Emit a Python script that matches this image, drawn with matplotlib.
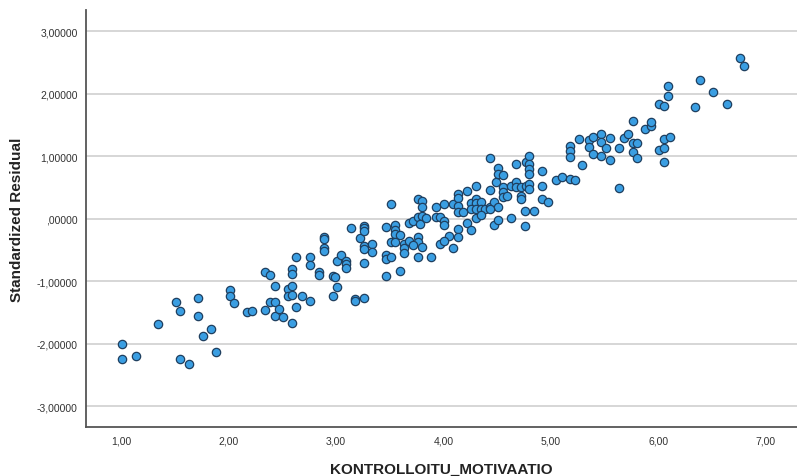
import matplotlib
matplotlib.use('Agg')
import matplotlib.pyplot as plt
from matplotlib.ticker import FuncFormatter

# KONTROLLOITU_MOTIVAATIO (x) vs Standardized Residual (y), luettu kuvasta
x = [1.01, 1.01, 1.135, 1.34, 1.51, 1.55, 1.55, 1.635, 1.72, 1.72,
     1.76, 1.84, 1.88, 2.01, 2.01, 2.05, 2.175, 2.22, 2.34, 2.39,
     2.34, 2.39, 2.43, 2.43, 2.43, 2.47, 2.51, 2.55, 2.55, 2.59,
     2.59, 2.59, 2.59, 2.59, 2.63, 2.63, 2.68, 2.76, 2.76, 2.76,
     2.845, 2.845, 2.89, 2.89, 2.89, 2.89, 2.97, 2.99, 2.97, 3.01,
     3.01, 3.05, 3.09, 3.09, 3.09, 3.14, 3.18, 3.18, 3.22, 3.26,
     3.26, 3.26, 3.26, 3.26, 3.26, 3.26, 3.34, 3.34, 3.47, 3.47,
     3.47, 3.47, 3.51, 3.51, 3.51, 3.55, 3.55, 3.55, 3.595, 3.55,
     3.635, 3.635, 3.635, 3.68, 3.68, 3.72, 3.76, 3.80, 3.80, 3.76,
     3.80, 3.78, 3.76, 3.76, 3.80, 3.84, 3.76, 3.88, 3.595, 3.93,
     4.01, 3.93, 3.97, 4.01, 4.01, 4.05, 3.97, 4.01, 4.09, 4.14,
     4.14, 4.14, 4.14, 4.18, 4.14, 4.14, 4.09, 4.22, 4.22, 4.26,
     4.30, 4.30, 4.35, 4.26, 4.30, 4.35, 4.39, 4.43, 4.47, 4.51,
     4.43, 4.30, 4.30, 4.35, 4.26, 4.43, 4.43, 4.47, 4.51, 4.49,
     4.51, 4.51, 4.55, 4.55, 4.55, 4.55, 4.59, 4.63, 4.68, 4.68,
     4.72, 4.72, 4.72, 4.77, 4.80, 4.80, 4.63, 4.68, 4.77, 4.80,
     4.80, 4.80, 4.80, 4.76, 4.845, 4.76, 4.92, 4.92, 4.92, 4.97,
     5.05, 5.10, 5.18, 5.18, 5.18, 5.18, 5.22, 5.26, 5.29, 5.35,
     5.39, 5.35, 5.39, 5.47, 5.47, 5.51, 5.47, 5.55, 5.55, 5.635,
     5.635, 5.68, 5.72, 5.76, 5.76, 5.80, 5.76, 5.80, 5.88, 5.93,
     5.93, 6.01, 6.05, 6.09, 6.09, 6.01, 6.05, 6.05, 6.11, 6.05,
     6.39, 6.51, 6.34, 6.64, 6.76, 6.80, 3.72]
res = [-2.00, -2.24, -2.20, -1.68, -1.34, -1.47, -2.24, -2.32, -1.27, -1.55,
       -1.88, -1.76, -2.14, -1.14, -1.23, -1.35, -1.49, -1.47, -0.86, -0.90,
       -1.46, -1.34, -1.08, -1.34, -1.55, -1.44, -1.57, -1.13, -1.24, -0.80,
       -0.88, -1.08, -1.22, -1.67, -0.62, -1.41, -1.23, -0.61, -0.74, -1.32,
       -0.86, -0.90, -0.30, -0.33, -0.47, -0.51, -0.91, -0.94, -1.23, -0.67,
       -1.10, -0.58, -0.67, -0.73, -0.79, -0.15, -1.29, -1.32, -0.31, -0.11,
       -0.15, -0.19, -0.43, -0.48, -0.71, -1.27, -0.40, -0.54, -0.14, -0.58,
       -0.64, -0.92, 0.23, -0.37, -0.62, -0.10, -0.18, -0.25, -0.26, -0.37,
       -0.405, -0.47, -0.55, -0.35, -0.07, -0.03, 0.315, 0.28, 0.19, 0.02,
       0.04, -0.08, -0.29, -0.37, -0.46, 0.01, -0.62, -0.61, -0.83, 0.195,
       0.23, 0.02, 0.02, -0.03, -0.10, -0.27, -0.40, -0.35, 0.23, 0.39,
       0.33, 0.21, 0.10, 0.10, -0.165, -0.29, -0.47, 0.45, -0.07, 0.25,
       0.315, 0.25, 0.27, 0.155, 0.155, 0.155, 0.155, 0.195, 0.27, 0.18,
       0.155, 0.53, 0.01, 0.06, -0.18, 0.97, 0.46, -0.10, -0.02, 0.59,
       0.81, 0.72, 0.70, 0.50, 0.42, 0.355, 0.37, 0.53, 0.58, 0.50,
       0.50, 0.36, 0.31, 0.52, 0.55, 0.47, 0.01, 0.87, 0.91, 1.01,
       0.88, 0.80, 0.71, 0.13, 0.13, -0.12, 0.76, 0.53, 0.31, 0.26,
       0.62, 0.66, 1.17, 1.09, 0.98, 0.63, 0.62, 1.28, 0.86, 1.26,
       1.30, 1.15, 1.04, 1.36, 1.22, 1.13, 1.01, 1.29, 0.935, 1.13,
       0.49, 1.29, 1.36, 1.57, 1.21, 1.21, 1.06, 0.97, 1.44, 1.49,
       1.55, 1.83, 1.80, 2.12, 1.97, 1.10, 1.13, 1.28, 1.31, 0.90,
       2.22, 2.03, 1.78, 1.84, 2.57, 2.44, -0.42]

x_ticks = [1, 2, 3, 4, 5, 6, 7]
y_ticks = [-3, -2, -1, 0, 1, 2, 3]

plt.rcParams['font.family'] = ['Liberation Sans', 'DejaVu Sans']

fig = plt.figure(figsize=(7.97, 4.77), dpi=100)
ax = fig.add_axes([0.108, 0.103, 0.892, 0.874])

ax.scatter(x, res, s=36, color='#3a9ee2', edgecolors='#1f3f5f', linewidths=0.9, zorder=3)

ax.set_xlim(0.675, 7.29)
ax.set_ylim(-3.33, 3.34)
ax.set_xticks(x_ticks)
ax.set_yticks(y_ticks)


def fi_x(v, pos):
    return f'{v:.2f}'.replace('.', ',')


def fi_y(v, pos):
    s = f'{v:.5f}'.replace('.', ',')
    if s.startswith('0,'):
        s = s[1:]
    if s.startswith('-0,'):
        s = s[2:]
    return s


ax.xaxis.set_major_formatter(FuncFormatter(fi_x))
ax.yaxis.set_major_formatter(FuncFormatter(fi_y))
ax.tick_params(length=0, labelsize=7.5, labelcolor='#333333', pad=6)

ax.grid(axis='y', color='#cccccc', linewidth=1.1, zorder=0)
ax.set_axisbelow(True)
for side in ['top', 'right']:
    ax.spines[side].set_visible(False)
for side in ['left', 'bottom']:
    ax.spines[side].set_color('#555555')
    ax.spines[side].set_linewidth(1.3)

ax.set_xlabel('KONTROLLOITU_MOTIVAATIO', fontsize=11, fontweight='bold', color='#222222', labelpad=12)
ax.set_ylabel('Standardized Residual', fontsize=11, fontweight='bold', color='#222222', labelpad=9)

fig.savefig('out.png', dpi=100)
